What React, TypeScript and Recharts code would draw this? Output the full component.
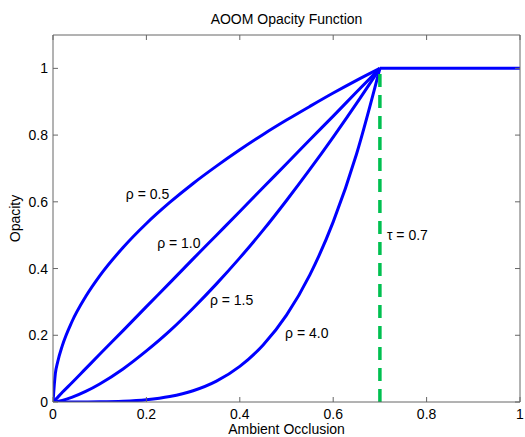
import React from 'react';
import { LineChart, Line, XAxis, YAxis, ReferenceDot } from 'recharts';

const xs = [0, 0.005, 0.01, 0.02, 0.04, 0.07, 0.1, 0.15, 0.2, 0.25, 0.3, 0.35, 0.4, 0.45, 0.5, 0.55, 0.6, 0.65, 0.7];
const rho05 = [0, 0.085, 0.12, 0.169, 0.239, 0.316, 0.378, 0.463, 0.535, 0.598, 0.655, 0.707, 0.756, 0.802, 0.845, 0.886, 0.926, 0.964, 1];
const rho10 = [0, 0.007, 0.014, 0.029, 0.057, 0.1, 0.143, 0.214, 0.286, 0.357, 0.429, 0.5, 0.571, 0.643, 0.714, 0.786, 0.857, 0.929, 1];
const rho15 = [0, 0.0006, 0.0017, 0.0048, 0.0137, 0.0316, 0.054, 0.099, 0.153, 0.213, 0.281, 0.354, 0.432, 0.515, 0.604, 0.697, 0.794, 0.895, 1];
const rho40 = [0, 0, 0, 0, 0, 0.0001, 0.0004, 0.0021, 0.0067, 0.0163, 0.0337, 0.0625, 0.1066, 0.1708, 0.2603, 0.3811, 0.5398, 0.7435, 1];
const flatX = [0.7, 1];
const flatY = [1, 1];
const tauX = [0.7, 0.7];
const tauY = [0, 1];
const xTicks = [0, 0.2, 0.4, 0.6, 0.8, 1];
const yTicks = [0, 0.2, 0.4, 0.6, 0.8, 1];
const annotations = [
  { x: 0.156, y: 0.622, text: 'ρ = 0.5' },
  { x: 0.223, y: 0.477, text: 'ρ = 1.0' },
  { x: 0.336, y: 0.306, text: 'ρ = 1.5' },
  { x: 0.497, y: 0.207, text: 'ρ = 4.0' },
  { x: 0.715, y: 0.5, text: 'τ = 0.7' },
];

const toPts = (xv: number[], yv: number[]) => xv.map((x, i) => ({ x, y: yv[i] }));

const FONT = '"Liberation Sans", Arial, Helvetica, sans-serif';
const AX = '#666';
const BLUE = '#0000ff';
const GREEN = '#00c050';
const fmt = (v: number) => String(Math.round(v * 10) / 10);

const BottomTick = (p: any) => (
  <g>
    <line x1={p.x} x2={p.x} y1={p.y} y2={p.y - 5} stroke={AX} />
    <text x={p.x} y={p.y + 12} textAnchor="middle" dominantBaseline="central" fontSize={14} fontFamily={FONT} fill="#000">
      {fmt(p.payload.value)}
    </text>
  </g>
);
const TopTick = (p: any) => <line x1={p.x} x2={p.x} y1={p.y} y2={p.y + 5} stroke={AX} />;
const LeftTick = (p: any) => (
  <g>
    <line x1={p.x} x2={p.x + 5} y1={p.y} y2={p.y} stroke={AX} />
    <text x={p.x - 5} y={p.y} textAnchor="end" dominantBaseline="central" fontSize={14} fontFamily={FONT} fill="#000">
      {fmt(p.payload.value)}
    </text>
  </g>
);
const RightTick = (p: any) => <line x1={p.x} x2={p.x - 5} y1={p.y} y2={p.y} stroke={AX} />;

export default function App() {
  const series = [rho05, rho10, rho15, rho40];
  return (
    <div style={{ position: 'absolute', left: 0, top: 0 }}>
      <LineChart width={525} height={437} margin={{ top: 0, right: 0, bottom: 0, left: 0 }}>
        <XAxis
          xAxisId="b" dataKey="x" type="number" domain={[0, 1]} ticks={xTicks} orientation="bottom" height={35}
          tickSize={0} tickMargin={0} tick={<BottomTick />} stroke={AX} allowDataOverflow interval={0}
          label={{
            content: () => (
              <text x={286.5} y={429} textAnchor="middle" dominantBaseline="central" fontSize={14} fontFamily={FONT} fill="#000">
                Ambient Occlusion
              </text>
            ),
          }}
        />
        <XAxis
          xAxisId="t" dataKey="x" type="number" domain={[0, 1]} ticks={xTicks} orientation="top" height={35}
          tickSize={0} tickMargin={0} tick={<TopTick />} stroke={AX} allowDataOverflow interval={0}
          label={{
            content: () => (
              <text x={286.5} y={19} textAnchor="middle" dominantBaseline="central" fontSize={14} fontFamily={FONT} fill="#000">
                AOOM Opacity Function
              </text>
            ),
          }}
        />
        <YAxis
          yAxisId="l" type="number" domain={[0, 1.1]} ticks={yTicks} orientation="left" width={53}
          tickSize={0} tickMargin={0} tick={<LeftTick />} stroke={AX} allowDataOverflow interval={0}
          label={{
            content: () => (
              <text x={15} y={218.5} transform="rotate(-90, 15, 218.5)" textAnchor="middle" dominantBaseline="central" fontSize={14} fontFamily={FONT} fill="#000">
                Opacity
              </text>
            ),
          }}
        />
        <YAxis
          yAxisId="r" type="number" domain={[0, 1.1]} ticks={yTicks} orientation="right" width={5}
          tickSize={0} tickMargin={0} tick={<RightTick />} stroke={AX} allowDataOverflow interval={0}
        />
        {series.map((s, i) => (
          <Line
            key={i} xAxisId="b" yAxisId="l" data={toPts(xs, s)} dataKey="y" type="monotone"
            stroke={BLUE} strokeWidth={3} dot={false} isAnimationActive={false}
          />
        ))}
        <Line xAxisId="b" yAxisId="l" data={toPts(flatX, flatY)} dataKey="y" type="linear" stroke={BLUE} strokeWidth={3} dot={false} isAnimationActive={false} />
        <Line xAxisId="b" yAxisId="l" data={toPts(tauX, tauY)} dataKey="y" type="linear" stroke={GREEN} strokeWidth={3.5} strokeDasharray="13 8" dot={false} isAnimationActive={false} />
        {annotations.map((a, i) => (
          <ReferenceDot
            key={i} xAxisId="b" yAxisId="l" x={a.x} y={a.y} r={0}
            shape={(sp: any) => (
              <text x={sp.cx} y={sp.cy} textAnchor="start" dominantBaseline="central" fontSize={14} fontFamily={FONT} fill="#000">
                {a.text}
              </text>
            )}
          />
        ))}
      </LineChart>
    </div>
  );
}
